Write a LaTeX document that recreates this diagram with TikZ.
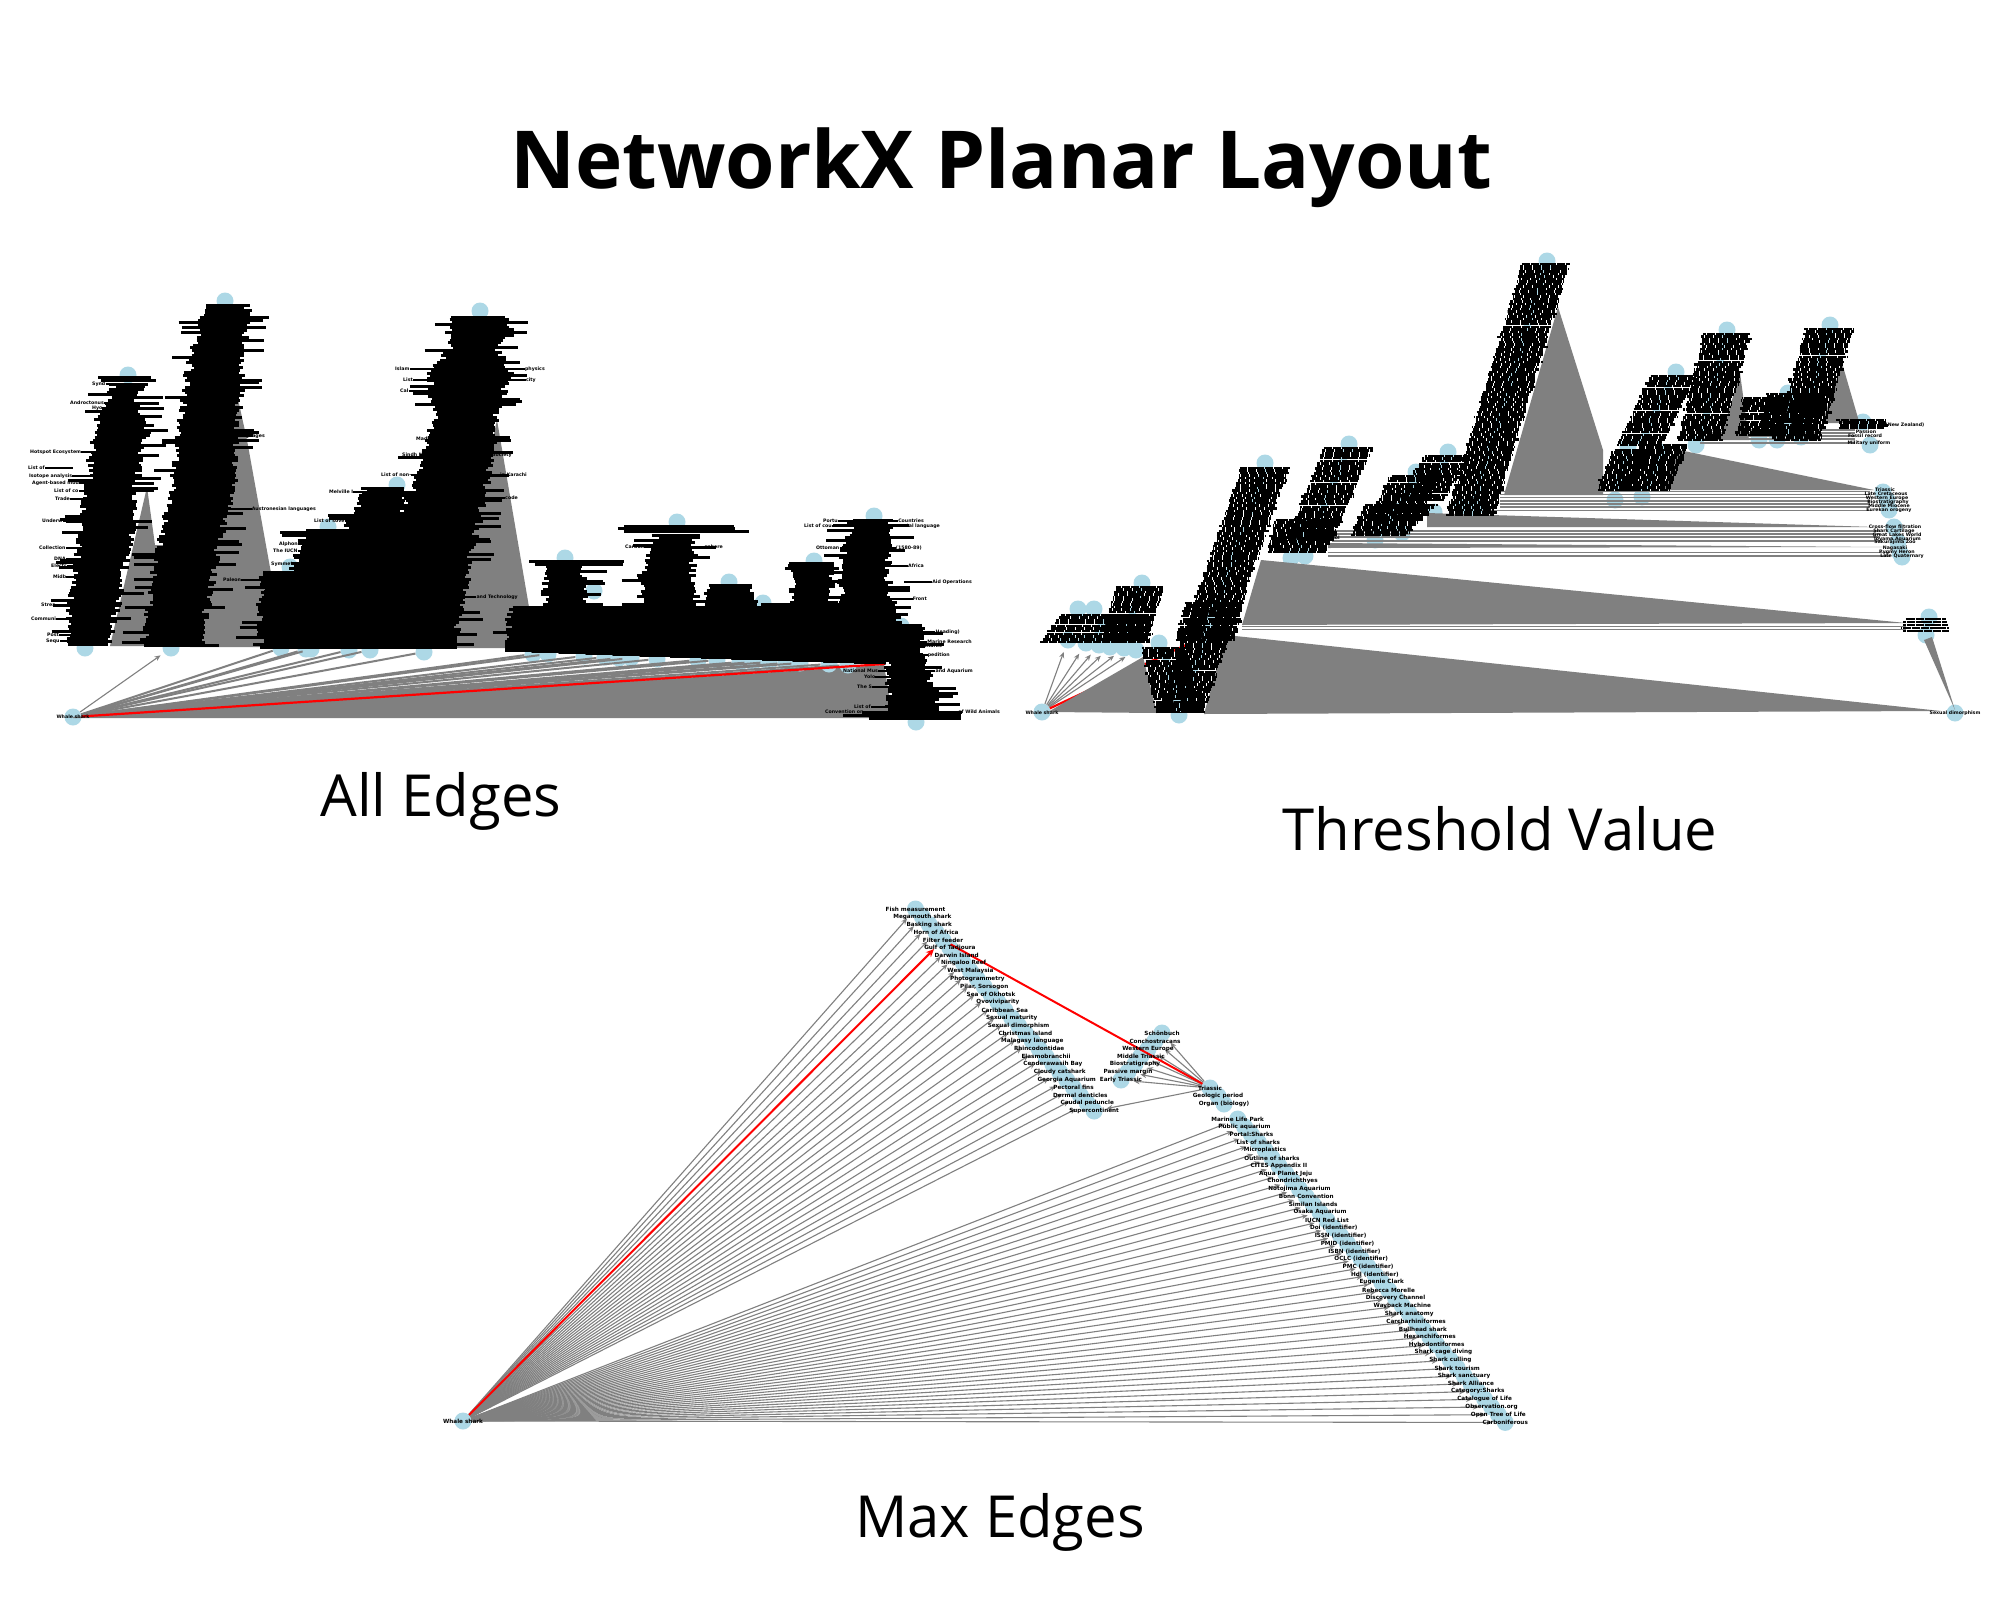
\documentclass[tikz,border=0pt]{standalone}
\usepackage{fontspec}
\setmainfont{Open Sans}
\newfontfamily\lblfont{DejaVu Sans}
\usetikzlibrary{arrows.meta}
\definecolor{dotblue}{HTML}{ADD8E6}
\definecolor{fangray}{HTML}{808080}
\def\massstep{2.5}
\def\massjag{9}
\def\massspike{20}
% rows of overlapping labels along a leaning column: style, x0, y0, x1, y1, half width top, half width bottom
\newcommand{\labelmass}[7]{%
  \pgfmathtruncatemacro\rowcount{max(1,(#5-#3)/\massstep)}%
  \foreach \r in {0,...,\rowcount}{%
    \pgfmathsetmacro\fr{\r/\rowcount}%
    \pgfmathsetmacro\rx{#2+(#4-#2)*\fr}%
    \pgfmathsetmacro\ry{#3+(#5-#3)*\fr}%
    \pgfmathsetmacro\hl{#6+(#7-#6)*\fr+rnd*\massjag+(rnd>0.85 ? \massspike : 0)}%
    \pgfmathsetmacro\hr{#6+(#7-#6)*\fr+rnd*\massjag+(rnd>0.85 ? \massspike : 0)}%
    \pgfmathsetmacro\phs{rnd*9}%
    \draw[#1,dash phase=\phs] (\rx-\hl,\ry) -- (\rx+\hr,\ry);
  }}
\begin{document}
\begin{tikzpicture}[x=1pt,y=-1pt,
  dot/.style={circle, fill=dotblue, minimum size=17pt, inner sep=0pt},
  edge/.style={-{Stealth[length=6pt,width=5pt]}, fangray, line width=1.1pt, shorten >=4pt},
  rededge/.style={-{Stealth[length=8pt,width=7pt]}, red, line width=2pt, shorten >=4pt},
  bundle/.style={fangray, line width=2pt},
  fan/.style={fill=fangray},
  bar/.style={fangray, line width=1.5pt},
  lbl/.style={font=\lblfont\bfseries\fontsize{5.7}{6}\selectfont, inner sep=0pt},
  tiny/.style={font=\lblfont\bfseries\fontsize{4.7}{5}\selectfont, inner sep=0pt},
  solidmass/.style={black, line width=3pt},
  textmass/.style={black, line width=2.5pt, dash pattern=on 8pt off 0.8pt},
  stub/.style={black, line width=2.4pt},
  chain/.style={dotblue, line width=7pt},
  heading/.style={font=\bfseries\fontsize{80}{88}\selectfont, inner sep=0pt},
  caption/.style={font=\fontsize{58}{66}\selectfont, inner sep=0pt}]
\pgfmathsetseed{7}
\useasboundingbox (0,0) rectangle (2000,1600);
\fill[white] (0,0) rectangle (2000,1600);
\node[heading] (title) at (1001,168) {NetworkX Planar Layout};
\node[caption] (capall) at (441,801) {All Edges};
\node[caption] (capthr) at (1500,829) {Threshold Value};
\node[caption] (capmax) at (1000,1522) {Max Edges};

% all edges
\node[dot] (awhale) at (73,717) {};
\foreach \x/\y [count=\i] in {85/648,128/375,225/301,480/311,397/485,328/527,290/567,565/558,677/522,729/582,814/561,874/516,594/591,763/603,901/626,916/722}
  \node[dot] (atop\i) at (\x,\y) {};
\fill[fan] (147,487) -- (155,545) -- (190,545) -- (160,646) -- (110,646) -- cycle;
\fill[fan] (236,390) -- (247,440) -- (271,573) -- (271,647) -- (190,647) -- cycle;
\fill[fan] (497,420) -- (529,607) -- (529,648) -- (447,648) -- cycle;
\fill[fan] (73,717) -- (884,665) -- (893,718) -- (73,718) -- cycle;
\foreach \x/\y [count=\i] in {281/648,306/649,311/649,349/650,370/650,424/652,533/654,548/654,584/656,605/657,619/658,631/658,657/659,698/660,717/660,740/662,753/662,769/662,786/663,800/663,829/664,848/665}{
  \node[dot] (ahub\i) at (\x,\y) {};
  \draw[bundle] (awhale) -- (ahub\i);
}
\node[dot] (afirst) at (171,648) {};
\draw[edge] (awhale) -- (afirst);
\coordinate (ared) at (885,664);
\draw[red, line width=2.2pt] (awhale) -- (ared);
\foreach \xa/\ya/\xb/\yb/\ha/\hb in {
  128/377/128/384/22/16, 128/384/123/403/11/9, 123/403/123/425/9/24, 123/425/115/460/22/20, 115/460/107/527/20/21, 107/527/96/593/21/20, 96/593/88/644/20/17,
  226/305/214/380/18/23, 214/380/204/480/23/26, 204/480/188/547/26/26, 188/547/172/645/26/24,
  480/317/480/335/24/26, 480/335/473/350/26/20, 473/350/469/373/20/36, 469/373/465/420/36/26, 465/420/452/480/26/32, 452/480/430/547/32/38, 430/547/408/647/38/42,
  385/488/340/647/16/42, 328/530/310/647/19/36, 290/572/290/647/24/26,
  700/607/700/650/186/186,
  577/561/577/564/40/40, 565/566/565/607/14/16,
  677/526/677/531/52/52, 676/535/666/575/16/21, 666/575/670/607/21/24,
  729/585/729/607/19/22, 812/563/811/597/21/12, 811/597/811/607/12/26,
  872/520/866/550/16/17, 866/550/864/580/17/19, 864/580/870/628/19/26,
  900/628/905/660/16/14, 905/660/915/712/14/22, 912/712/912/718/42/42}
  \labelmass{solidmass}{\xa}{\ya}{\xb}{\yb}{\ha}{\hb}
\fill[black] (505,640) -- (885,640) -- (885,664) -- (640,656) -- (505,651) -- cycle;
\node[tiny] (awhalelbl) at (73,717) {Whale shark};
\foreach \x/\y/\txt [count=\i] in {70/403/Androctonus,92/408/Hyo,92/384/Synd,30/452/Hotspot Ecosystem,28/468/List of,29/476/Isotope analysis,32/483/Agent-based mod,54/491/List of co,55/499/Trade,42/521/Underw,39/548/Collection,54/559/DNA,51/566/Electr,53/577/Midb,41/605/Strea,31/619/Communi,47/635/Post,46/641/Sequ,395/369/Islam,403/380/List,400/391/Cal,416/439/Madh,402/455/Sindh Music,381/475/List of non-,329/492/Melville I,314/521/List of sove,279/544/Alphon,273/551/The IUCN,271/564/Symmet,223/580/Paleon,625/547/Carbon,804/526/List of cou,823/521/Portu,816/548/Ottoman,843/671/National Mus,825/712/Convention on,864/677/Yolo,857/687/The S,854/707/List of}{
  \node[tiny, anchor=west] (aleft\i) at (\x,\y) {\txt};
  \draw[stub] (aleft\i.east) -- ++(28,0);
}
\foreach \x/\y/\txt [count=\i] in {316/509/Austronesian languages,265/436/languages,527/475/in Karachi,512/455/ing Society,545/369/physics,536/380/city,518/597/and Technology,518/498/code,723/547/sphere,922/548/(1580-89),924/521/Countries,940/526/tal language,972/582/Aid Operations,927/599/Front,972/642/Marine Research,942/646/Sharks,973/671/and Aquarium,1000/712/of Wild Animals,960/632/Heading),950/655/pedition,924/566/Africa}{
  \node[tiny, anchor=east] (aright\i) at (\x,\y) {\txt};
  \draw[stub] (aright\i.west) -- ++(-28,0);
}

% threshold value
\node[dot] (twhale) at (1042,712) {};
\node[dot] (tsexual) at (1955,713) {};
\foreach \x/\y [count=\i] in {1547/261,1448/452,1416/472,1349/444,1265/463,1179/715,1159/643,1142/583,1078/609,1094/609,1375/540,1402/533,1434/512,1462/507,1478/505,1291/558,1305/556,1676/372,1727/330,1628/447,1615/500,1642/497,1696/445,1830/325,1788/393,1759/440,1777/440,1801/437,1863/422,1870/445,1929/617,1926/635,1883/492,1887/500,1889/510,1894/527,1898/542,1900/553,1902/557}
  \node[dot] (thub\i) at (\x,\y) {};
\foreach \x/\y [count=\i] in {1068/640,1086/643,1099/645,1110/647,1124/648,1136/650}{
  \node[dot] (tlow\i) at (\x,\y) {};
  \draw[edge] (twhale) -- (tlow\i);
}
\coordinate (tred) at (1186,645);
\draw[red, line width=2.2pt] (twhale) -- (tred);
\fill[fan] (1048,712) -- (1143,657) -- (1157,713) -- cycle;
\fill[fan] (1226,635) -- (1941,711) -- (1204,714) -- cycle;
\fill[fan] (1261,560) -- (1906,623) -- (1242,625) -- cycle;
\fill[fan] (1558,307) -- (1603,450) -- (1603,495) -- (1504,495) -- cycle;
\fill[fan] (1679,450) -- (1874,490) -- (1663,490) -- cycle;
\fill[fan] (1740,373) -- (1749,440) -- (1720,440) -- cycle;
\fill[fan] (1842,363) -- (1858,418) -- (1858,423) -- (1822,423) -- cycle;
\fill[fan] (1427,513) -- (1875,527) -- (1427,527) -- cycle;
\fill[fan] (1328,543) -- (1886,547) -- (1328,548) -- cycle;
\fill[fan] (1955,710) -- (1932,637) -- (1924,640) -- cycle;
\foreach \xa/\xb/\y in {1242/1906/626.5,1242/1906/629.5,1500/1870/491.5,1500/1870/494.5,1500/1870/497.5,1500/1870/501,1500/1870/504,1500/1870/507,1480/1870/510.5,1332/1880/531,1332/1880/534,1332/1880/537,1332/1880/541,1328/1890/552.5,1328/1890/556,1700/1855/430,1700/1855/433,1700/1855/436,1700/1855/439,1700/1855/443}
  \draw[bar] (\xa,\y) -- (\xb,\y);
\def\massstep{2.5}
\def\massjag{3}
\def\massspike{2}
\foreach \xa/\ya/\xb/\yb/\ha/\hb in {
  1546/264/1470/515/22/22, 1448/456/1420/500/22/22, 1416/476/1393/520/24/24, 1400/505/1378/535/34/26,
  1348/448/1310/540/22/22, 1305/520/1297/552/28/28,
  1265/468/1180/712/22/22, 1163/648/1180/712/20/22, 1215/603/1205/640/28/28,
  1140/587/1125/640/22/22, 1105/615/1095/642/43/53,
  1673/376/1640/445/21/21, 1727/334/1700/440/22/20, 1630/450/1615/490/16/16, 1665/445/1645/490/22/22,
  1830/329/1797/440/22/22, 1770/398/1765/435/26/26, 1795/394/1785/435/26/26,
  1926/619/1926/631/20/20, 1862/420/1862/428/22/22}
{ \draw[chain] (\xa,\ya) -- (\xb,\yb);
  \labelmass{textmass}{\xa}{\ya}{\xb}{\yb}{\ha}{\hb} }
\node[tiny] (twhalelbl) at (1042,713) {Whale shark};
\node[tiny] (tsexlbl) at (1955,713) {Sexual dimorphism};
\foreach \x/\y/\txt [count=\i] in {1885/490/Triassic,1886/494/Late Cretaceous,1887/498/Western Europe,1888/502/Biostratigraphy,1889/506/Middle Miocene,1889/510/Eurekan orogeny,1895/527/Cross-flow filtration,1894/531/Shark Cartilage,1897/535/Great Lakes World,1897/539/Toyama Aquarium,1895/542/Sakurajima Zoo,1895/548/Nagasaki,1897/552/Pygmy Heron,1902/556/Late Quaternary,1905/425/(New Zealand),1866/432/Passion,1865/436/Fossil record,1869/443/Military uniform,1473/499/ling,1335/538/Mol}
  \node[tiny] (tlbl\i) at (\x,\y) {\txt};

% max edges
\node[dot] (whale) at (463,1421) {};
\foreach \i in {0,...,26}{
  \pgfmathsetmacro\xx{915.5+6.87*\i}\pgfmathsetmacro\yy{909+7.77*\i}
  \node[dot] (up\i) at (\xx,\yy) {};
}
\foreach \i in {0,...,39}{
  \pgfmathsetmacro\xx{1237.7+6.86*\i}\pgfmathsetmacro\yy{1119+7.78*\i}
  \node[dot] (lo\i) at (\xx,\yy) {};
  \draw[edge] (whale) -- (lo\i);
}
\foreach \i in {0,1,2,3,5,6,7,8,9,10,11,12,13,14,15,16,17,18,19,20,21,22,23,24,25}
  \draw[edge] (whale) -- (up\i);
\draw[rededge] (whale) -- (up4);
\foreach \x/\y [count=\i] in {1162/1033,1155/1041,1148/1049,1141/1056,1135/1064,1128/1072,1121/1080}{
  \node[dot] (mid\i) at (\x,\y) {};
}
\node[dot] (trias) at (1210,1088) {};
\node[dot] (geol) at (1218,1096) {};
\node[dot] (organ) at (1224,1104) {};
\foreach \i in {1,...,7}
  \draw[edge] (trias) -- (mid\i);
\draw[edge] (trias) -- (up26);
\draw[red, line width=2pt] (up4) -- (trias);
\foreach \name [count=\i from 0] in {Fish measurement,Megamouth shark,Basking shark,Horn of Africa,Filter feeder,Gulf of Tadjoura,Darwin Island,Ningaloo Reef,West Malaysia,Photogrammetry,{Pilar, Sorsogon},Sea of Okhotsk,Ovoviviparity,Caribbean Sea,Sexual maturity,Sexual dimorphism,Christmas Island,Malagasy language,Rhincodontidae,Elasmobranchii,Cenderawasih Bay,Cloudy catshark,Georgia Aquarium,Pectoral fins,Dermal denticles,Caudal peduncle,Supercontinent}
  \node[lbl] (uplbl\i) at (up\i) {\name};
\foreach \name [count=\i from 0] in {Marine Life Park,Public aquarium,Portal:Sharks,List of sharks,Microplastics,Outline of sharks,CITES Appendix II,Aqua Planet Jeju,Chondrichthyes,Notojima Aquarium,Bonn Convention,Similan Islands,Osaka Aquarium,IUCN Red List,Doi (identifier),ISSN (identifier),PMID (identifier),ISBN (identifier),OCLC (identifier),PMC (identifier),Hdl (identifier),Eugenie Clark,Rebecca Morelle,Discovery Channel,Wayback Machine,Shark anatomy,Carcharhiniformes,Bullhead shark,Hexanchiformes,Hybodontiformes,Shark cage diving,Shark culling,Shark tourism,Shark sanctuary,Shark Alliance,Category:Sharks,Catalogue of Life,Observation.org,Open Tree of Life,Carboniferous}
  \node[lbl] (lolbl\i) at (lo\i) {\name};
\foreach \name [count=\i] in {Sch\"onbuch,Conchostracans,Western Europe,Middle Triassic,Biostratigraphy,Passive margin,Early Triassic}
  \node[lbl] (midlbl\i) at (mid\i) {\name};
\node[lbl] (triaslbl) at (trias) {Triassic};
\node[lbl] (geollbl) at (geol) {Geologic period};
\node[lbl] (organlbl) at (organ) {Organ (biology)};
\node[lbl] (whalelbl) at (whale) {Whale shark};
\end{tikzpicture}
\end{document}
